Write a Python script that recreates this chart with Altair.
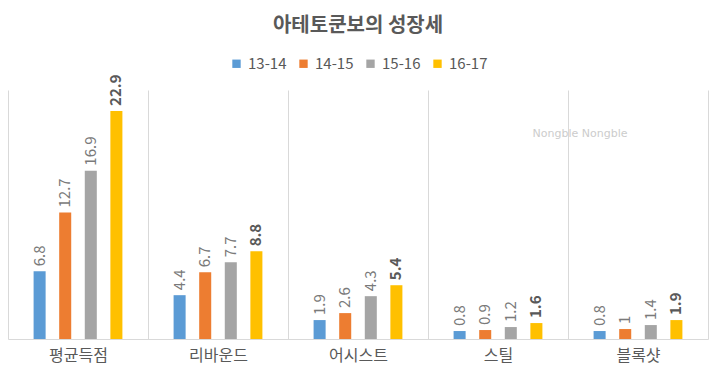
import altair as alt
import pandas as pd

categories = ["평균득점", "리바운드", "어시스트", "스틸", "블록샷"]
seasons = ["13-14", "14-15", "15-16", "16-17"]
v_13_14 = [6.8, 4.4, 1.9, 0.8, 0.8]
v_14_15 = [12.7, 6.7, 2.6, 0.9, 1.0]
v_15_16 = [16.9, 7.7, 4.3, 1.2, 1.4]
v_16_17 = [22.9, 8.8, 5.4, 1.6, 1.9]
colors = ["#5B9BD5", "#ED7D31", "#A5A5A5", "#FFC000"]
watermark = ["Nongble Nongble"]

series = [v_13_14, v_14_15, v_15_16, v_16_17]
rows = []
for s, vals in zip(seasons, series):
    for c, v in zip(categories, vals):
        rows.append({"category": c, "season": s, "value": v, "label": f"{v:g}"})
df = pd.DataFrame(rows)

FONT = "Noto Sans CJK KR"
TXT = "#595959"

x = alt.X(
    "category:N",
    sort=categories,
    scale=alt.Scale(paddingInner=0, paddingOuter=0),
    axis=alt.Axis(
        title=None, labelAngle=0, grid=True, tickBand="extent",
        gridColor="#d9d9d9", domainColor="#d9d9d9", ticks=False,
        labelFontSize=16, labelColor=TXT, labelPadding=8, labelFont=FONT,
    ),
)
xo = alt.XOffset("season:N", sort=seasons,
                 scale=alt.Scale(paddingInner=0.53, paddingOuter=1))
y = alt.Y("value:Q", scale=alt.Scale(domain=[0, 25]), axis=None)

base = alt.Chart(df)

bars = base.mark_bar().encode(
    x=x, xOffset=xo, y=y,
    color=alt.Color(
        "season:N", sort=seasons,
        scale=alt.Scale(domain=seasons, range=colors),
        legend=alt.Legend(
            orient="none", legendX=221, legendY=-34, direction="horizontal",
            title=None, symbolType="square", symbolSize=70, symbolStrokeWidth=0,
            labelFontSize=15, labelColor=TXT, labelFont=FONT, columnPadding=9,
            padding=0,
        ),
    ),
)

labels = base.transform_filter(alt.datum.season != "16-17").mark_text(
    angle=270, align="left", baseline="middle", dx=5, fontSize=15,
    color="#7a7a7a", font=FONT,
).encode(x=x, xOffset=xo, y=y, text="label:N")

labels_bold = base.transform_filter(alt.datum.season == "16-17").mark_text(
    angle=270, align="left", baseline="middle", dx=5, fontSize=15,
    fontWeight="bold", color=TXT, font=FONT,
).encode(x=x, xOffset=xo, y=y, text="label:N")

wm = alt.Chart(pd.DataFrame({"t": watermark})).mark_text(
    fontSize=11, color="#cccccc", font="DejaVu Sans"
).encode(text="t:N", x=alt.value(572), y=alt.value(44))

chart = alt.layer(bars, labels, labels_bold, wm).properties(
    width=700, height=249,
    title=alt.TitleParams(
        "아테토쿤보의 성장세", fontSize=20, font=FONT, fontWeight="bold",
        color=TXT, anchor="middle", offset=20,
    ),
    autosize=alt.AutoSizeParams(type="none"),
    padding={"left": 0, "top": 82, "right": 4, "bottom": 40},
).configure_view(stroke=None)

chart.save("out.html", embed_options={"renderer": "svg", "actions": False})
